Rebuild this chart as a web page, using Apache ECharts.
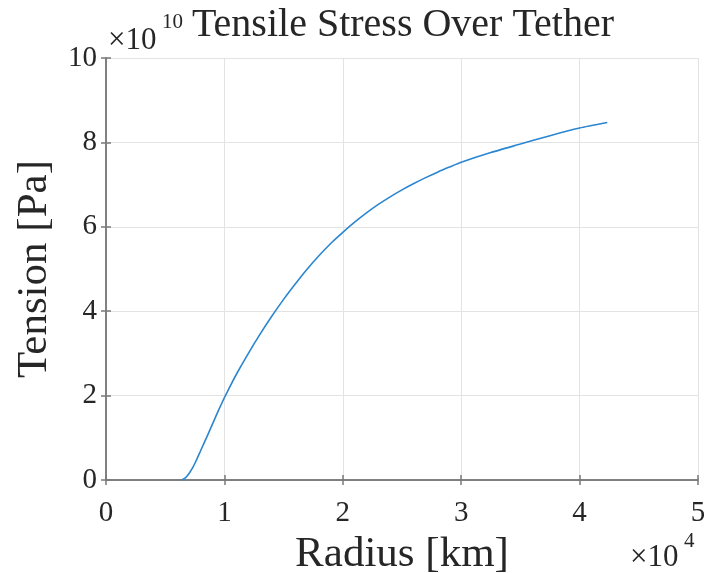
<!DOCTYPE html>
<html>
<head>
<meta charset="utf-8">
<script src="https://cdn.jsdelivr.net/npm/echarts@6/dist/echarts.min.js"></script>
<style>
  html, body { margin: 0; padding: 0; background: #fff; }
  #chart { width: 704px; height: 573px; }
</style>
</head>
<body>
<div id="chart"></div>
<script>
// radius in units of 1e4 km, tension in units of 1e10 Pa
const radius = [0.64, 0.67, 0.70, 0.73, 0.76, 0.80, 0.85, 0.90, 0.95, 1.00, 1.05, 1.10, 1.20, 1.30, 1.40, 1.50, 1.60, 1.70, 1.80, 1.90, 2.00, 2.10, 2.20, 2.30, 2.40, 2.50, 2.60, 2.70, 2.80, 2.90, 3.00, 3.25, 3.50, 3.75, 4.00, 4.234];
const tension = [0, 0.05, 0.15, 0.28, 0.45, 0.70, 1.01, 1.33, 1.65, 1.95, 2.23, 2.50, 2.99, 3.45, 3.88, 4.28, 4.65, 5.00, 5.32, 5.61, 5.87, 6.11, 6.33, 6.53, 6.71, 6.875, 7.025, 7.165, 7.295, 7.415, 7.53, 7.76, 7.96, 8.16, 8.34, 8.47];

const xTicks = [0, 1, 2, 3, 4, 5];
const yTicks = [0, 2, 4, 6, 8, 10];

const serif = '"Liberation Serif", "DejaVu Serif", serif';
const textColor = '#262626';
const axisColor = '#7a7a7a';
const gridColor = '#e3e3e3';

const chart = echarts.init(document.getElementById('chart'));

const hiddenAxis = {
  axisLabel: { show: false },
  axisLine: { show: true, lineStyle: { color: axisColor, width: 1.5 } },
  axisTick: { show: true, inside: true, length: 5, lineStyle: { color: axisColor, width: 1.5 } },
  splitLine: { show: false }
};

chart.setOption({
  animation: false,
  grid: { left: 106, right: 6, top: 58, bottom: 93, outerBoundsMode: 'none', containLabel: false },
  xAxis: [
    {
      type: 'value',
      min: xTicks[0],
      max: xTicks[xTicks.length - 1],
      interval: 1,
      name: 'Radius [km]',
      nameLocation: 'middle',
      nameGap: 50,
      nameTextStyle: { fontFamily: serif, fontSize: 43, color: textColor },
      axisLine: { show: true, lineStyle: { color: axisColor, width: 1.5 } },
      axisTick: { show: true, inside: true, length: 5, lineStyle: { color: axisColor, width: 1.5 } },
      axisLabel: { fontFamily: serif, fontSize: 29, color: textColor, margin: 19 },
      splitLine: { show: true, lineStyle: { color: gridColor, width: 1 } }
    },
    Object.assign({ type: 'value', position: 'top', min: 0, max: 5, interval: 1 }, hiddenAxis)
  ],
  yAxis: [
    {
      type: 'value',
      min: yTicks[0],
      max: yTicks[yTicks.length - 1],
      interval: 2,
      name: 'Tension [Pa]',
      nameLocation: 'middle',
      nameGap: 50,
      nameTextStyle: { fontFamily: serif, fontSize: 43, color: textColor },
      axisLine: { show: true, lineStyle: { color: axisColor, width: 1.5 } },
      axisTick: { show: true, inside: true, length: 5, lineStyle: { color: axisColor, width: 1.5 } },
      axisLabel: { fontFamily: serif, fontSize: 29, color: textColor, margin: 9 },
      splitLine: { show: true, lineStyle: { color: gridColor, width: 1 } }
    },
    Object.assign({ type: 'value', position: 'right', min: 0, max: 10, interval: 2 }, hiddenAxis)
  ],
  series: [
    {
      type: 'line',
      data: radius.map((r, i) => [r, tension[i]]),
      showSymbol: false,
      smooth: 0.2,
      lineStyle: { color: '#2a86d0', width: 1.6 },
      z: 5
    }
  ],
  graphic: [
    {
      type: 'text',
      style: {
        x: 403, y: 25, text: 'Tensile Stress Over Tether', textAlign: 'center', textVerticalAlign: 'middle',
        font: '40px ' + serif, fill: textColor
      }
    },
    {
      type: 'text',
      style: {
        x: 108, y: 41, text: '×10', textAlign: 'left', textVerticalAlign: 'middle',
        font: '31px ' + serif, fill: textColor
      }
    },
    {
      type: 'text',
      style: {
        x: 162, y: 22, text: '10', textAlign: 'left', textVerticalAlign: 'middle',
        font: '21px ' + serif, fill: textColor
      }
    },
    {
      type: 'text',
      style: {
        x: 630, y: 558, text: '×10', textAlign: 'left', textVerticalAlign: 'middle',
        font: '31px ' + serif, fill: textColor
      }
    },
    {
      type: 'text',
      style: {
        x: 684, y: 541, text: '4', textAlign: 'left', textVerticalAlign: 'middle',
        font: '21px ' + serif, fill: textColor
      }
    }
  ]
});
</script>
</body>
</html>
